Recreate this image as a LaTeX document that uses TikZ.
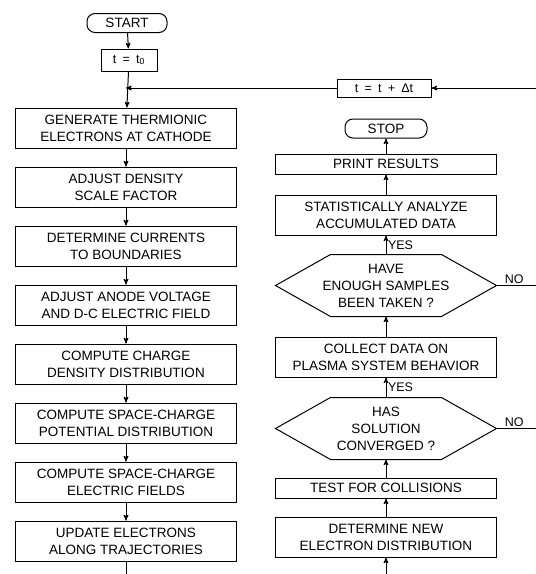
\documentclass[tikz,border=0pt]{standalone}
\usepackage{fontspec}
\setmainfont{Liberation Sans}
\usepackage{tikz}
\usetikzlibrary{positioning}
\usetikzlibrary{arrows}

\begin{document}
\begin{tikzpicture}[->,>=stealth',x=1pt,y=-1pt,line width=1pt,node distance=18pt,
        every node/.style={font=\fontsize{13.5}{17}\selectfont},
        box/.style={draw,rectangle,align=center,minimum width=221pt,minimum height=40pt,inner sep=2pt},
        slimbox/.style={box,minimum height=20pt},
        smallbox/.style={draw,rectangle,inner sep=2pt,font=\fontsize{12.5}{14}\selectfont},
        term/.style={draw,rectangle,rounded corners=8pt,minimum width=80pt,minimum height=19pt,inner sep=2pt},
        decision/.style={align=center,minimum width=220pt,minimum height=61pt,inner sep=0pt},
        answer/.style={font=\fontsize{12.5}{14}\selectfont,inner sep=1.5pt}]

\useasboundingbox (0,0) rectangle (536,574);

% left column
\node[term] (start) at (127,23) {START};
\node[smallbox,minimum width=56pt,minimum height=22pt] (t0) at (129,60) {t\enspace=\enspace t\textsubscript{0}};
\node[box] (gen) at (126,128) {GENERATE THERMIONIC\\ELECTRONS AT CATHODE};
\node[box] (dens) [below=of gen] {ADJUST DENSITY\\SCALE FACTOR};
\node[box] (curr) [below=of dens] {DETERMINE CURRENTS\\TO BOUNDARIES};
\node[box] (anode) [below=of curr] {ADJUST ANODE VOLTAGE\\AND D-C ELECTRIC FIELD};
\node[box] (charge) [below=of anode] {COMPUTE CHARGE\\DENSITY DISTRIBUTION};
\node[box] (pot) [below=of charge] {COMPUTE SPACE-CHARGE\\POTENTIAL DISTRIBUTION};
\node[box] (field) [below=of pot] {COMPUTE SPACE-CHARGE\\ELECTRIC FIELDS};
\node[box] (upd) [below=of field] {UPDATE ELECTRONS\\ALONG TRAJECTORIES};

% time step
\node[smallbox,minimum width=94pt,minimum height=18pt] (step) at (384,88) {t\enspace=\enspace t\enspace+\enspace Δt};

% right column, built upwards
\node[box] (newdist) at (386,537) {DETERMINE NEW\\ELECTRON DISTRIBUTION};
\node[slimbox] (coll) [above=18pt of newdist] {TEST FOR COLLISIONS};
\node[decision] (conv) [above=18pt of coll] {HAS\\SOLUTION\\CONVERGED ?};
\node[box] (collect) [above=20pt of conv] {COLLECT DATA ON\\PLASMA SYSTEM BEHAVIOR};
\node[decision] (enough) [above=20pt of collect] {HAVE\\ENOUGH SAMPLES\\BEEN TAKEN ?};
\node[box] (stat) [above=19pt of enough] {STATISTICALLY ANALYZE\\ACCUMULATED DATA};
\node[slimbox] (print) [above=20pt of stat] {PRINT RESULTS};
\node[term,minimum width=82pt] (stop) [above=15pt of print] {STOP};

\foreach \n in {enough,conv}
  \draw[-] (\n.west) -- ([xshift=55pt]\n.north west) -- ([xshift=-55pt]\n.north east)
        -- (\n.east) -- ([xshift=-55pt]\n.south east) -- ([xshift=55pt]\n.south west) -- cycle;

\coordinate (edge) at (536,0);
\coordinate (join) at (gen.north |- step);
\coordinate (lout) at (126,574);
\coordinate (rin) at (386,574);

\path (start) edge (t0)
      (t0) edge (gen)
      (step) edge (join)
      (step -| edge) edge (step);

\foreach \a/\b in {gen/dens,dens/curr,curr/anode,anode/charge,charge/pot,pot/field,field/upd}
  \draw (\a) -- (\b);
\draw[-] (upd) -- (lout);

\draw (rin) -- (newdist);
\draw (newdist) -- (coll);
\draw (coll) -- (conv);
\draw (conv) -- node[answer,right] {YES} (collect);
\draw (collect) -- (enough);
\draw (enough) -- node[answer,right] {YES} (stat);
\draw (stat) -- (print);
\draw (print) -- (stop);

\draw[-] (enough.east) -- node[answer,above,pos=0.45] {NO} (enough.east -| edge);
\draw[-] (conv.east) -- node[answer,above,pos=0.45] {NO} (conv.east -| edge);

\end{tikzpicture}
\end{document}
